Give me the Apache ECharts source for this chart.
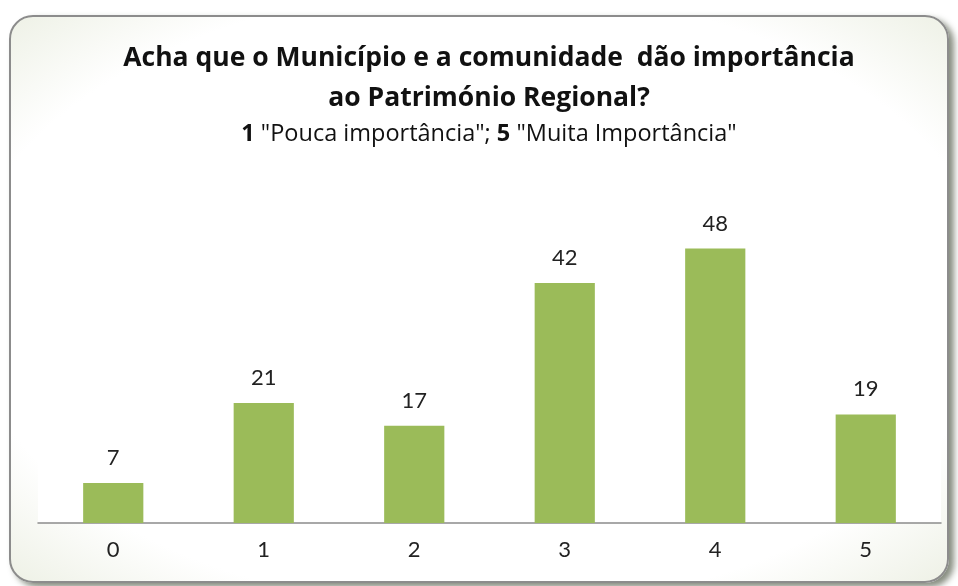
<!DOCTYPE html>
<html>
<head>
<meta charset="utf-8">
<script src="https://cdn.jsdelivr.net/npm/echarts@6/dist/echarts.min.js"></script>
<style>
html, body { margin: 0; padding: 0; background: #fff; }
#frame {
    position: absolute; left: 9px; top: 15px; width: 936px; height: 564px;
    border: 2px solid #8c8c8c; border-radius: 24px;
    background: radial-gradient(ellipse at center, #ffffff 78%, #eef1e6 100%);
    box-shadow: 5px 4px 6px rgba(70, 80, 60, 0.65);
}
#main { position: absolute; left: 0; top: 0; width: 958px; height: 586px; }
</style>
</head>
<body>
<div id="frame"></div>
<div id="main"></div>
<script>
var categories = ['0', '1', '2', '3', '4', '5'];
var values = [7, 21, 17, 42, 48, 19];

var dom = document.getElementById('main');
var myChart = echarts.init(dom);
var option = null;

option = {
    title: [
        {
            text: 'Acha que o Município e a comunidade  dão importância\nao Património Regional?',
            left: 484,
            top: 33,
            textAlign: 'center',
            textStyle: {
                fontFamily: 'Open Sans',
                fontWeight: 'bold',
                fontSize: 26.5,
                lineHeight: 40,
                color: '#111'
            }
        },
        {
            text: '{b|1} "Pouca importância"; {b|5} "Muita Importância"',
            left: 484,
            top: 117,
            textAlign: 'center',
            textStyle: {
                fontFamily: 'Open Sans',
                fontWeight: 'normal',
                fontSize: 23.5,
                color: '#111',
                rich: {
                    b: { fontFamily: 'Open Sans', fontSize: 23.5, fontWeight: 'bold', color: '#111' }
                }
            }
        }
    ],
    grid: {
        left: 38,
        right: 17,
        top: 180,
        bottom: 63,
        show: true,
        backgroundColor: '#ffffff',
        borderWidth: 0
    },
    xAxis: {
        type: 'category',
        data: categories,
        axisLine: { lineStyle: { color: '#8c8c8c', width: 1.5 } },
        axisTick: { show: false },
        axisLabel: {
            margin: 16,
            fontFamily: 'Lato',
            fontSize: 22,
            color: '#222'
        }
    },
    yAxis: {
        type: 'value',
        min: 0,
        max: 60,
        show: false,
        splitLine: { show: false }
    },
    series: [
        {
            type: 'bar',
            data: values,
            barWidth: '40%',
            itemStyle: { color: '#9bbb59' },
            label: {
                show: true,
                position: 'top',
                distance: 14,
                fontFamily: 'Lato',
                fontSize: 22,
                color: '#222'
            }
        }
    ]
};

if (option && typeof option === "object") {
    myChart.setOption(option, true);
    window.onresize = myChart.resize;
}
</script>
</body>
</html>
